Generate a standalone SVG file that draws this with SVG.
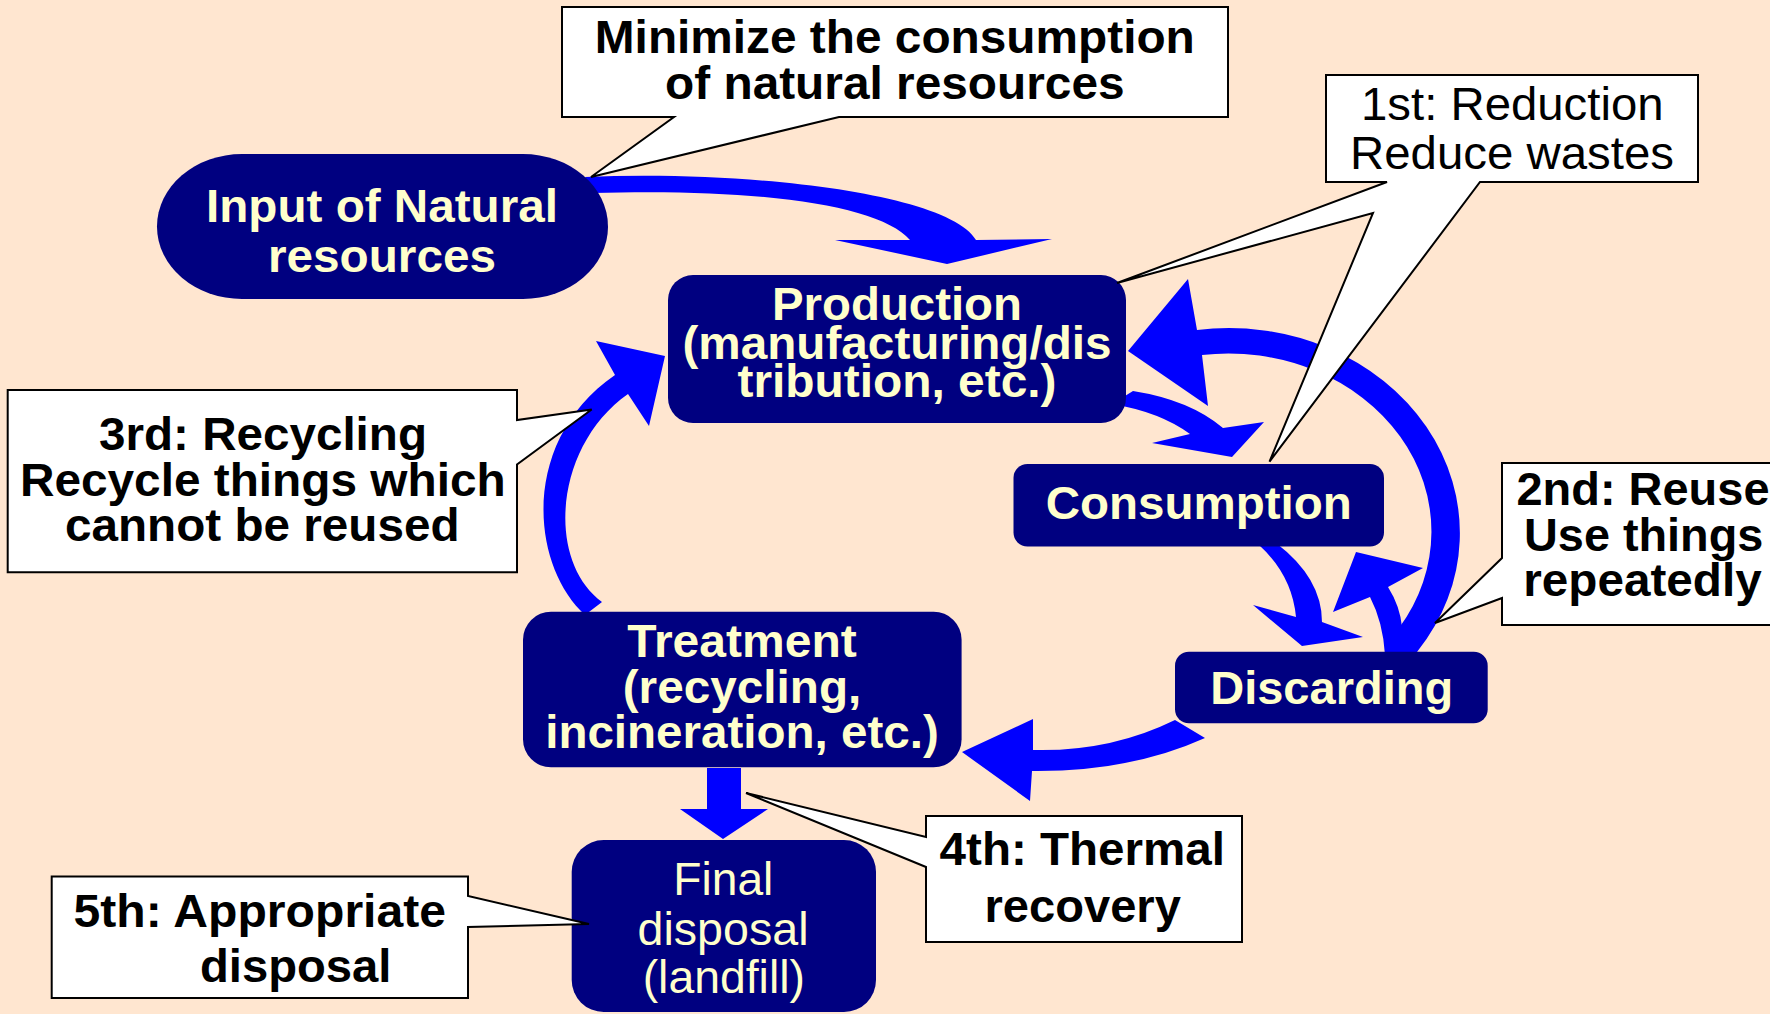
<svg xmlns="http://www.w3.org/2000/svg" width="1770" height="1014" viewBox="0 0 1770 1014">
<style>
text{font-family:"Liberation Sans",Arial,sans-serif;font-size:47px;text-anchor:middle}
.nb{font-weight:bold;fill:#FFFFCC}
.nr{font-weight:normal;fill:#FFFFCC}
.cb{font-weight:bold;fill:#000}
.cr{font-weight:normal;fill:#000}
.node{fill:#000080}
.arrow{fill:#0000FF}
.call{fill:#FFFFFF;stroke:#000;stroke-width:2;stroke-linejoin:miter}
</style>
<rect width="1770" height="1014" fill="#FFE6D0"/>
<g id="connectors">
  <path class="arrow" d="M585,177 C760,170 950,195 976,240 L1052,239 L947,264 L835,240 L910,240 C880,205 760,188 592,193 Z"/>
  <path class="arrow" d="M1133,391 Q1190,400 1223,428 L1264,422 L1232,457 L1152,443 L1190,434 Q1160,412 1112,404 Z"/>
  <path class="arrow" d="M1259,545 Q1292,575 1296,617 L1253,605 L1302,646 L1363,637 L1322,622 Q1322,578 1276,543 Z"/>
  <path class="arrow" d="M1417,652 A231 205 0 0 0 1197,330 L1188,279 L1128,351 L1208,406 L1202,355 A203 178 0 0 1 1399,628 L1390,655 Z"/>
  <path class="arrow" d="M1385,655 Q1383,622 1370,597 L1333,612 L1356,552 L1423,568 L1388,587 Q1400,606 1402,627 L1405,655 Z"/>
  <path class="arrow" d="M1175,720 Q1110,752 1033,750 L1033,719 L962,752 L1030,801 L1032,771 Q1130,772 1205,738 Z"/>
  <path class="arrow" d="M707,768 L741,768 L741,809 L768,809 L723,839 L680,809 L707,809 Z"/>
  <path class="arrow" d="M585,615 C530,565 520,440 615,375 L596,341 L665,356 L649,426 L628,394 C555,445 545,560 602,602 Z"/>
</g>
<g id="input">
  <rect class="node" x="157" y="154" width="451" height="145" rx="85" ry="72.5"/>
  <text class="nb" x="382" y="222" font-size="48" textLength="352" lengthAdjust="spacingAndGlyphs">Input of Natural</text>
  <text class="nb" x="382" y="272" font-size="48" textLength="228" lengthAdjust="spacingAndGlyphs">resources</text>
</g>
<g id="production">
  <rect class="node" x="668" y="275" width="458" height="148" rx="25"/>
  <text class="nb" x="897" y="320" font-size="43" textLength="250" lengthAdjust="spacingAndGlyphs">Production</text>
  <text class="nb" x="897" y="359" font-size="43" textLength="429" lengthAdjust="spacingAndGlyphs">(manufacturing/dis</text>
  <text class="nb" x="897" y="397" font-size="43" textLength="319" lengthAdjust="spacingAndGlyphs">tribution, etc.)</text>
</g>
<g id="consumption">
  <rect class="node" x="1013.5" y="464" width="370.5" height="82.5" rx="14"/>
  <text class="nb" x="1198.7" y="519" textLength="306" lengthAdjust="spacingAndGlyphs">Consumption</text>
</g>
<g id="discarding">
  <rect class="node" x="1175" y="651.7" width="312.7" height="71.6" rx="14"/>
  <text class="nb" x="1331.7" y="704" textLength="243" lengthAdjust="spacingAndGlyphs">Discarding</text>
</g>
<g id="treatment">
  <rect class="node" x="523" y="611.7" width="438.6" height="155.6" rx="28"/>
  <text class="nb" x="742" y="657" font-size="43" textLength="229.5" lengthAdjust="spacingAndGlyphs">Treatment</text>
  <text class="nb" x="742" y="703" font-size="43" textLength="238.6" lengthAdjust="spacingAndGlyphs">(recycling,</text>
  <text class="nb" x="742" y="748" font-size="43" textLength="393.6" lengthAdjust="spacingAndGlyphs">incineration, etc.)</text>
</g>
<g id="final">
  <rect class="node" x="571.7" y="840" width="304.3" height="172" rx="32"/>
  <text class="nr" x="723.3" y="895" font-size="46" textLength="100" lengthAdjust="spacingAndGlyphs">Final</text>
  <text class="nr" x="723" y="945" font-size="46" textLength="171" lengthAdjust="spacingAndGlyphs">disposal</text>
  <text class="nr" x="723.8" y="993" font-size="46" textLength="162.3" lengthAdjust="spacingAndGlyphs">(landfill)</text>
</g>
<g id="callout-minimize">
  <path class="call" d="M562,7 H1228 V117 H839 L591,177 L674,117 H562 Z"/>
  <text class="cb" x="894.8" y="53" font-size="45" textLength="600" lengthAdjust="spacingAndGlyphs">Minimize the consumption</text>
  <text class="cb" x="894.8" y="99" font-size="45" textLength="459.5" lengthAdjust="spacingAndGlyphs">of natural resources</text>
</g>
<g id="callout-reduction">
  <path class="call" d="M1326,75 H1698 V182 H1480 L1269.5,461.6 L1373,213 L1117,283 L1387,182 H1326 Z"/>
  <text class="cr" x="1512.3" y="119.5" font-size="45" textLength="302.6" lengthAdjust="spacingAndGlyphs">1st: Reduction</text>
  <text class="cr" x="1512" y="168.6" font-size="45" textLength="324" lengthAdjust="spacingAndGlyphs">Reduce wastes</text>
</g>
<g id="callout-recycling">
  <path class="call" d="M7.7,390 H517 V420 L591.7,409.5 L517,464.5 V572.3 H7.7 Z"/>
  <text class="cb" x="263" y="450.4" font-size="45" textLength="328" lengthAdjust="spacingAndGlyphs">3rd: Recycling</text>
  <text class="cb" x="262.8" y="496" font-size="45" textLength="485.7" lengthAdjust="spacingAndGlyphs">Recycle things which</text>
  <text class="cb" x="262.3" y="541.4" font-size="45" textLength="394.6" lengthAdjust="spacingAndGlyphs">cannot be reused</text>
</g>
<g id="callout-reuse">
  <path class="call" d="M1502,463 H1790 V625 H1502 V598 L1435,623 L1502,558 Z"/>
  <text class="cb" x="1643" y="505" font-size="45" textLength="253" lengthAdjust="spacingAndGlyphs">2nd: Reuse</text>
  <text class="cb" x="1643.7" y="551" font-size="45" textLength="239.3" lengthAdjust="spacingAndGlyphs">Use things</text>
  <text class="cb" x="1642.5" y="596" font-size="45" textLength="238.4" lengthAdjust="spacingAndGlyphs">repeatedly</text>
</g>
<g id="callout-thermal">
  <path class="call" d="M926,816 H1242 V942 H926 V867 L746,793 L926,837 Z"/>
  <text class="cb" x="1082.3" y="865" font-size="44" textLength="285.4" lengthAdjust="spacingAndGlyphs">4th: Thermal</text>
  <text class="cb" x="1082.7" y="921.7" font-size="44" textLength="196.4" lengthAdjust="spacingAndGlyphs">recovery</text>
</g>
<g id="callout-disposal">
  <path class="call" d="M51.7,876.4 H468 V896 L589,924 L468,927 V998 H51.7 Z"/>
  <text class="cb" x="259.8" y="926.8" font-size="45" textLength="372.5" lengthAdjust="spacingAndGlyphs">5th: Appropriate</text>
  <text class="cb" x="295.7" y="982" font-size="45" textLength="191.4" lengthAdjust="spacingAndGlyphs">disposal</text>
</g>
</svg>
